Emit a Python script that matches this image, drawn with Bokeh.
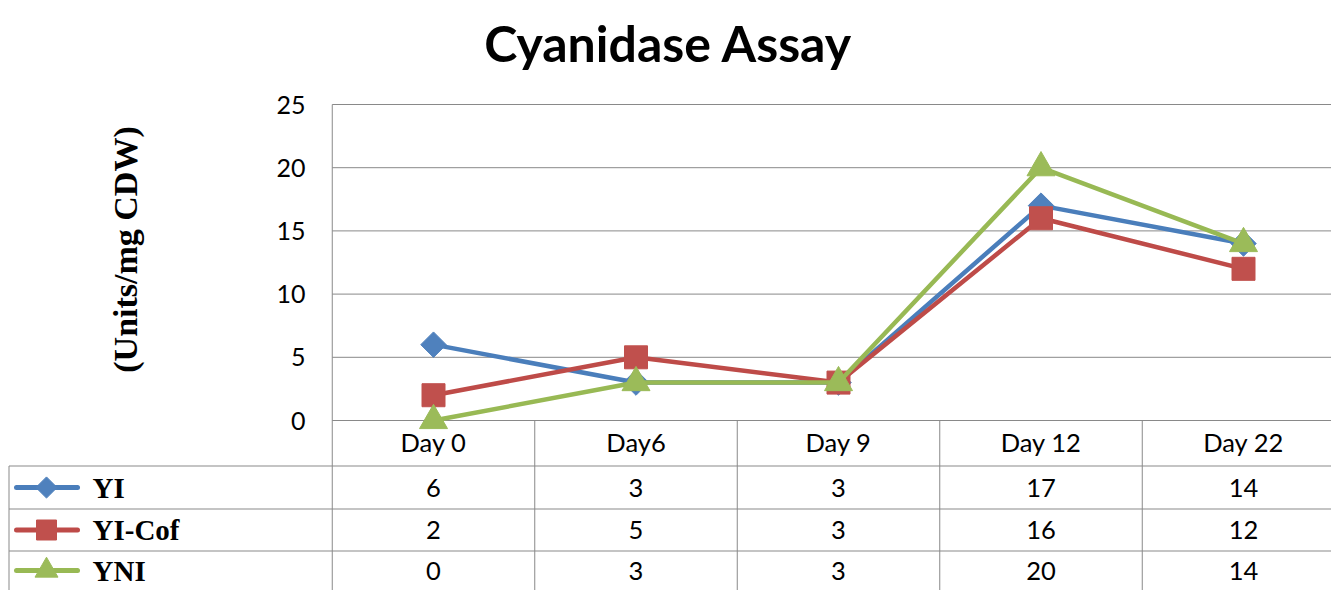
import numpy as np
from bokeh.plotting import figure
from bokeh.models import Range1d
from bokeh.core.properties import value
from bokeh.embed import file_html
from bokeh.resources import INLINE

# ---------------- data ----------------
days = ["Day 0", "Day6", "Day 9", "Day 12", "Day 22"]
yi = [6, 3, 3, 17, 14]
yi_cof = [2, 5, 3, 16, 12]
yni = [0, 3, 3, 20, 14]
series_names = ["YI", "YI-Cof", "YNI"]
y_ticks = [0, 5, 10, 15, 20, 25]
title_text = "Cyanidase Assay"
y_label = "(Units/mg CDW)"

# ---------------- styles ----------------
line_colors = ["#4A7EBB", "#BE4B48", "#98B954"]
fill_colors = ["#4F81BD", "#C0504D", "#9BBB59"]
markers = ["square", "square", "triangle"]
angles = [np.pi / 4, 0, 0]
sizes = [18, 23, 28]
leg_sizes = [15, 20, 23]
grid_color = "#898989"
SANS = "Lato"
SERIF = "Liberation Serif"

# ---------------- layout (pixel positions) ----------------
W, H = 1331, 590
X0 = 433.0   # column of first category centre
DX = 202.5   # pixels per category
Y0 = 420.0   # row of value 0
UY = 12.64   # pixels per unit


def xd(px):
    return (px - X0) / DX


def yd(py):
    return (Y0 - py) / UY


p = figure(width=W, height=H, x_range=Range1d(xd(0), xd(W)),
           y_range=Range1d(yd(H), yd(0)), output_backend="svg",
           toolbar_location=None, min_border=0,
           x_axis_location=None, y_axis_location=None)
p.grid.visible = False
p.outline_line_color = None
p.background_fill_color = "white"
p.border_fill_color = "white"

n = len(days)
xs = list(range(n))
x_left = -0.5
x_right = xd(W)
y_bottom = yd(H)

# horizontal gridlines
p.segment(x0=[x_left] * len(y_ticks), x1=[x_right] * len(y_ticks),
          y0=y_ticks, y1=y_ticks, line_color=grid_color, line_width=1)
# left axis line of plot area down through table
p.segment(x0=[x_left], x1=[x_left], y0=[max(y_ticks)], y1=[y_bottom],
          line_color=grid_color, line_width=1)
# category boundaries in table
bounds = [i + 0.5 for i in range(n - 1)]
p.segment(x0=bounds, x1=bounds, y0=[0] * len(bounds), y1=[y_bottom] * len(bounds),
          line_color=grid_color, line_width=1)
# table row lines
row_lines = [yd(465.5), yd(508.5), yd(550.5)]
p.segment(x0=[xd(8.5)] * 3, x1=[x_right] * 3, y0=row_lines, y1=row_lines,
          line_color=grid_color, line_width=1)
p.segment(x0=[xd(8.5)], x1=[xd(8.5)], y0=[row_lines[0]], y1=[y_bottom],
          line_color=grid_color, line_width=1)

# y tick labels
p.text(x=[xd(305)] * len(y_ticks), y=y_ticks, text=[str(t) for t in y_ticks],
       text_align="right", text_baseline="middle", text_font=value(SANS),
       text_font_size="25px", text_color="#000000")

# category labels
p.text(x=xs, y=[yd(441)] * n, text=days, text_align="center",
       text_baseline="middle", text_font=value(SANS), text_font_size="25.5px",
       text_color="#000000")

# series lines + markers
all_series = [yi, yi_cof, yni]
for vals, lc, fc, mk, ang, sz in zip(all_series, line_colors, fill_colors,
                                     markers, angles, sizes):
    p.line(xs, vals, line_color=lc, line_width=4.5)
    p.scatter(xs, vals, marker=mk, angle=ang, size=sz, fill_color=fc,
              line_color=fc)

# table rows
row_centres = [yd(487), yd(529.5), yd(570)]
for name, vals, yc, lc, fc, mk, ang, sz in zip(series_names, all_series,
                                               row_centres, line_colors,
                                               fill_colors, markers, angles,
                                               leg_sizes):
    p.text(x=xs, y=[yc] * n, text=[str(v) for v in vals], text_align="center",
           text_baseline="middle", text_font=value(SANS),
           text_font_size="25.5px", text_color="#000000")
    p.segment(x0=[xd(16)], x1=[xd(77)], y0=[yc], y1=[yc], line_color=lc,
              line_width=5, line_cap="round")
    p.scatter([xd(46)], [yc], marker=mk, angle=ang, size=sz, fill_color=fc,
              line_color=fc)
    p.text(x=[xd(92)], y=[yc], text=[name], text_align="left",
           text_baseline="middle", text_font=value(SERIF),
           text_font_size="29px", text_font_style="bold",
           text_color="#000000")

# y-axis label
p.text(x=[xd(125)], y=[yd(249)], text=[y_label], angle=np.pi / 2,
       text_align="center", text_baseline="middle", text_font=value(SERIF),
       text_font_size="34px", text_font_style="bold", text_color="#000000")

# title
p.text(x=[xd(668)], y=[yd(42)], text=[title_text], text_align="center",
       text_baseline="middle", text_font=value(SANS), text_font_size="50px",
       text_font_style="bold", text_color="#000000")

open("out.html", "w").write(file_html(p, INLINE))
